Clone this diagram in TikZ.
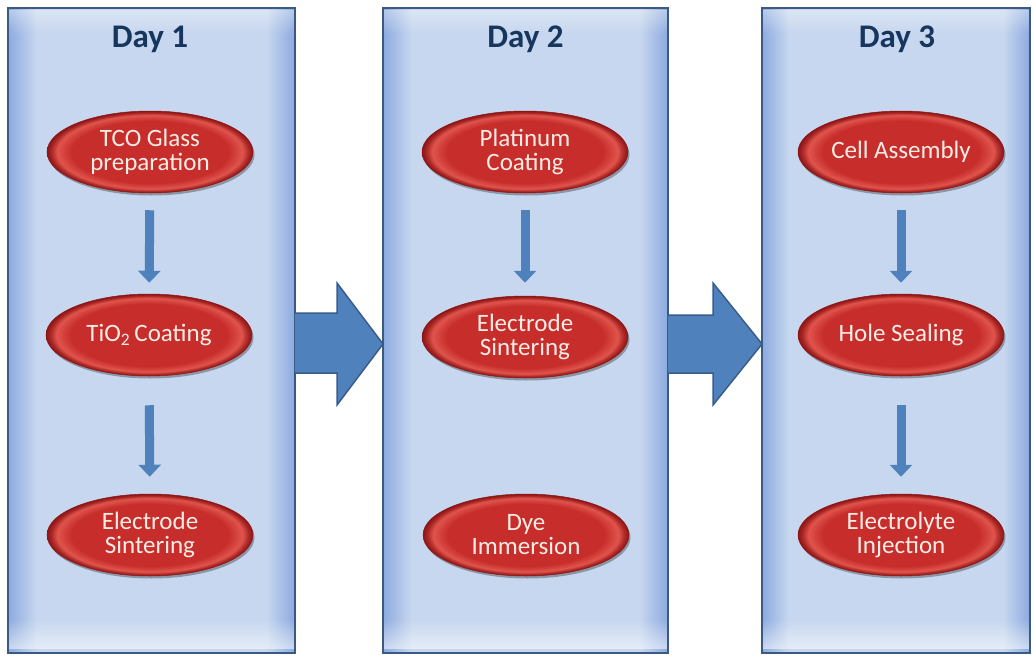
\documentclass[tikz,border=0pt]{standalone}
\usepackage{fontspec}
\setmainfont{Carlito}
\usetikzlibrary{shapes.geometric,arrows.meta,shadows,fadings}

\definecolor{panelside}{HTML}{8CAADF}
\definecolor{panelmid}{HTML}{C7D7EF}
\definecolor{panelline}{HTML}{3B5A82}
\definecolor{titleblue}{HTML}{17365D}
\definecolor{arrowblue}{HTML}{4F81BD}
\definecolor{arrowline}{HTML}{385D8A}
\definecolor{stepred}{HTML}{C62D2B}
\definecolor{stepdark}{HTML}{8C1616}
\definecolor{stepring}{HTML}{E0544C}
\definecolor{steptext}{HTML}{FBEDE6}

% column background: darker blue towards both side edges
\pgfdeclarehorizontalshading{panelshade}{100bp}{color(0bp)=(panelside); color(25bp)=(panelside); color(30bp)=(panelmid); color(70bp)=(panelmid); color(75bp)=(panelside); color(100bp)=(panelside)}
% bevelled red lozenge for each step
\pgfdeclareradialshading{stepshade}{\pgfpoint{0bp}{0bp}}{color(0bp)=(stepred); color(19bp)=(stepred); color(22.5bp)=(stepring); color(24bp)=(stepred!85!black); color(25bp)=(stepdark); color(50bp)=(stepdark)}

\tikzset{
  panel/.style={rectangle, shading=panelshade, minimum width=#1, minimum height=645pt, inner sep=0pt, outer sep=0pt},
  panelborder/.style={draw=panelline, line width=1.6pt},
  daytitle/.style={anchor=base, text=titleblue, font=\fontsize{33}{35}\selectfont\bfseries},
  stepnode/.style={ellipse, shading=stepshade, draw=stepdark, line width=0.5pt,
    minimum width=206pt, minimum height=82pt, inner sep=0pt, align=center,
    text=steptext, font=\fontsize{25}{24}\selectfont,
    drop shadow={shadow xshift=1.5pt, shadow yshift=-2.5pt, opacity=.3, fill=black}},
  smallarrow/.style={draw=arrowblue, line width=9pt, -{Triangle[width=22pt,length=12pt]}},
  bigarrow/.style={fill=arrowblue, draw=arrowline, line width=1.5pt, line join=miter},
}

\begin{document}
\begin{tikzpicture}[x=1pt,y=-1pt]
\useasboundingbox (0,0) rectangle (1034,656);
\fill[white] (0,0) rectangle (1034,656);

% day columns
\node[panel=287pt] (p1) at (151.5,330.5) {};
\node[panel=285pt] (p2) at (525.5,330.5) {};
\node[panel=268pt] (p3) at (896,330.5) {};
\foreach \p in {p1,p2,p3}{
  \fill[white, opacity=.55, path fading=north] ([yshift=4pt]\p.south west) rectangle ([yshift=34pt]\p.south east);
  \fill[white, opacity=.35, path fading=south] ([yshift=-2pt]\p.north west) rectangle ([yshift=-26pt]\p.north east);
  \draw[panelborder] (\p.south west) rectangle (\p.north east);
}

% column headings
\node[daytitle] (t1) at (150,47) {Day 1};
\node[daytitle] (t2) at (525.5,47) {Day 2};
\node[daytitle] (t3) at (897,47) {Day 3};

% steps of day 1
\node[stepnode] (a1) at (150,152) {TCO Glass\\preparation};
\node[stepnode] (a2) at (149,335) {TiO\textsubscript{2}\,Coating};
\node[stepnode] (a3) at (150,535) {Electrode\\Sintering};
% steps of day 2
\node[stepnode] (b1) at (525,152) {Platinum\\Coating};
\node[stepnode] (b2) at (525,337) {Electrode\\Sintering};
\node[stepnode] (b3) at (526,535) {Dye\\Immersion};
% steps of day 3
\node[stepnode] (c1) at (901,152) {Cell Assembly};
\node[stepnode] (c2) at (901,335) {Hole Sealing};
\node[stepnode] (c3) at (901,535) {Electrolyte\\Injection};

% arrows within a day
\draw[smallarrow, shorten <=17pt, shorten >=11pt] (a1) -- (a2);
\draw[smallarrow, shorten <=29pt, shorten >=17pt] (a2) -- (a3);
\draw[smallarrow, shorten <=17pt, shorten >=13pt] (b1) -- (b2);
\draw[smallarrow, shorten <=17pt, shorten >=11pt] (c1) -- (c2);
\draw[smallarrow, shorten <=29pt, shorten >=17pt] (c2) -- (c3);

% block arrows from one day to the next
\path[bigarrow] (p1.east |- 0,313) -- (337,313) -- (337,283) -- (p2.west |- 0,344)
  -- (337,405) -- (337,373) -- (p1.east |- 0,373);
\path[bigarrow] (p2.east |- 0,315) -- (713,315) -- (713,283) -- (p3.west |- 0,344)
  -- (713,405) -- (713,373) -- (p2.east |- 0,373);
\end{tikzpicture}
\end{document}
